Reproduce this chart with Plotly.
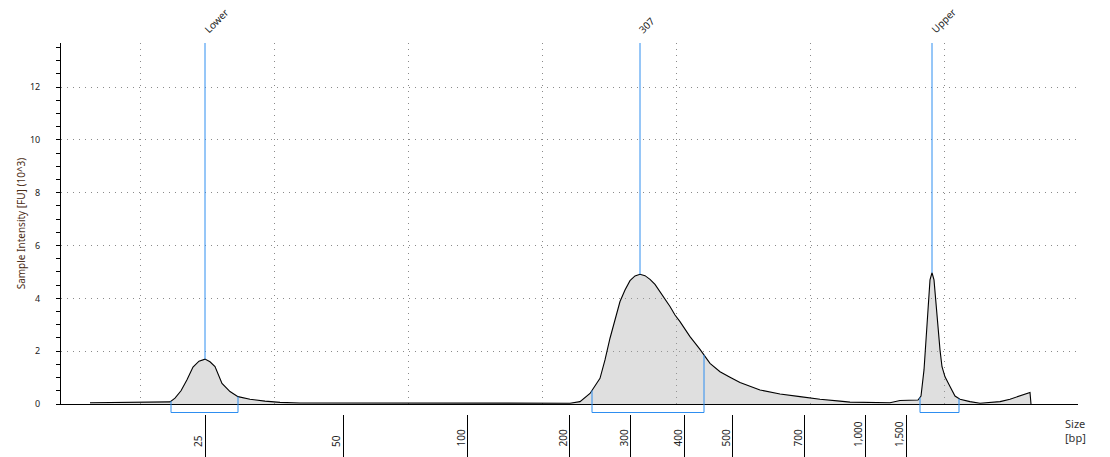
import numpy as np
import plotly.graph_objects as go

# ---------------- data ----------------
# migration time (arbitrary seconds) and sample intensity [FU] (10^3)
time_s = [2.9, 10.9, 11.4, 12.0, 12.6, 13.2, 13.8, 14.4, 14.9, 15.4, 16.1, 16.9, 17.7,
          18.9, 20.4, 21.9, 23.9, 33.9, 48.4, 48.9, 50.9, 51.9, 52.9, 53.9, 54.4, 54.9,
          55.4, 55.9, 56.4, 56.9, 57.4, 57.9, 58.4, 58.9, 59.4, 59.9, 60.4, 60.9, 61.4,
          61.9, 62.9, 63.9, 64.9, 65.9, 66.9, 67.9, 69.9, 71.9, 73.9, 75.9, 77.9, 78.9,
          82.9, 83.9, 85.7, 86.0, 86.3, 86.5, 86.7, 86.9, 87.1, 87.3, 87.5, 87.7, 87.9,
          88.1, 88.4, 88.9, 89.4, 89.9, 90.9, 91.9, 92.9, 93.9, 94.9, 95.9, 96.9, 97.0]
intensity = [0.05, 0.08, 0.22, 0.50, 0.92, 1.40, 1.62, 1.70, 1.60, 1.42, 0.78, 0.47, 0.28,
             0.18, 0.11, 0.06, 0.04, 0.04, 0.04, 0.02, 0.03, 0.09, 0.40, 0.97, 1.67, 2.49,
             3.18, 3.88, 4.32, 4.67, 4.85, 4.91, 4.86, 4.72, 4.53, 4.25, 4.00, 3.69, 3.37,
             3.12, 2.55, 2.07, 1.54, 1.22, 1.01, 0.81, 0.53, 0.38, 0.28, 0.18, 0.11, 0.07,
             0.05, 0.13, 0.15, 0.30, 1.29, 2.30, 3.56, 4.70, 4.97, 4.70, 3.81, 2.80, 2.05,
             1.41, 1.03, 0.66, 0.30, 0.18, 0.09, 0.03, 0.05, 0.09, 0.18, 0.30, 0.44, 0.0]

peak_names = ["Lower", "307", "Upper"]
peak_time = [14.4, 57.9, 87.1]
region_start = [11.0, 53.1, 85.9]
region_end = [17.7, 64.3, 89.8]

ladder_bp = ["25", "50", "100", "200", "300", "400", "500", "700", "1,000", "1,500"]
ladder_time = [14.4, 28.2, 40.6, 50.8, 56.9, 62.3, 67.1, 74.3, 80.4, 84.5]

# ---------------- layout geometry ----------------
W, H = 1110, 457
M_L, M_R, M_T, M_B = 61, 32, 43, 0
PLOT_BOTTOM_PX = 404
BRACKET_PX = 412.5
paper_h = H - M_T - M_B
d0 = (H - PLOT_BOTTOM_PX) / paper_h
bracket_y = (H - BRACKET_PX) / paper_h
YMAX = 13.67
XMAX = 101.7
BLUE = "#2e8ef0"

fig = go.Figure()

fig.add_trace(go.Scatter(
    x=time_s, y=intensity, mode="lines",
    line=dict(color="black", width=1.1),
    fill="tozeroy", fillcolor="rgba(165,165,165,0.36)",
    hoverinfo="skip", showlegend=False))

# peak marker lines
for t in peak_time:
    v = float(np.interp(t, time_s, intensity))
    fig.add_trace(go.Scatter(x=[t, t], y=[v, YMAX], mode="lines",
                             line=dict(color=BLUE, width=1),
                             hoverinfo="skip", showlegend=False))

# region bracket verticals above axis
for a, b in zip(region_start, region_end):
    va = float(np.interp(a, time_s, intensity))
    vb = float(np.interp(b, time_s, intensity))
    fig.add_trace(go.Scatter(x=[a, a, None, b, b], y=[va, 0, None, vb, 0], mode="lines",
                             line=dict(color=BLUE, width=1),
                             hoverinfo="skip", showlegend=False))
    fig.add_shape(type="path", xref="x", yref="paper",
                  path=f"M {a},{d0} L {a},{bracket_y} L {b},{bracket_y} L {b},{d0}",
                  line=dict(color=BLUE, width=1))

# dummy trace for the size-tick axis
fig.add_trace(go.Scatter(x=[50], y=[0], xaxis="x3", mode="markers",
                         marker=dict(opacity=0), hoverinfo="skip", showlegend=False))

annotations = []
for name, t in zip(peak_names, peak_time):
    annotations.append(dict(x=t, y=1, xref="x", yref="paper", text=name,
                            textangle=-45, showarrow=False, xanchor="left",
                            yanchor="bottom", xshift=-7, yshift=4,
                            font=dict(family="Noto Sans", size=10, color="#222")))
for lab, t in zip(ladder_bp, ladder_time):
    annotations.append(dict(x=t, y=0, xref="x", yref="paper", text=lab,
                            textangle=-90, showarrow=False, xanchor="right",
                            yanchor="bottom", xshift=2, yshift=8,
                            font=dict(family="Noto Sans", size=10, color="#222")))
annotations.append(dict(x=100.2, y=(H - 423) / paper_h, xref="x", yref="paper",
                        text="Size", showarrow=False, xanchor="left", yanchor="middle",
                        font=dict(family="Noto Sans", size=11, color="#333")))
annotations.append(dict(x=100.2, y=(H - 437) / paper_h, xref="x", yref="paper",
                        text="[bp]", showarrow=False, xanchor="left", yanchor="middle",
                        font=dict(family="Noto Sans", size=11, color="#333")))

GRID = "#8a8a8a"
fig.update_layout(
    width=W, height=H, autosize=False,
    margin=dict(l=M_L, r=M_R, t=M_T, b=M_B, pad=0, autoexpand=False),
    plot_bgcolor="white", paper_bgcolor="white",
    showlegend=False,
    annotations=annotations,
    xaxis=dict(range=[0, XMAX], domain=[0, 1], anchor="y", automargin=False,
               showline=True, linecolor="black", linewidth=1,
               ticks="", showticklabels=False, zeroline=False,
               showgrid=True, gridcolor=GRID, gridwidth=1, griddash="1px,5px",
               tick0=7.97, dtick=13.39, fixedrange=True),
    xaxis3=dict(range=[0, XMAX], overlaying="x", anchor="free", position=0,
                automargin=False,
                tickmode="array", tickvals=ladder_time, ticktext=ladder_bp,
                ticks="inside", ticklen=42, tickwidth=1.2, tickcolor="black",
                showticklabels=False, showline=False, showgrid=False, zeroline=False),
    yaxis=dict(range=[0, YMAX], domain=[d0, 1], anchor="x", automargin=False,
               showline=True, linecolor="black", linewidth=1,
               ticks="outside", ticklen=4, tickcolor="black", tickwidth=1,
               tick0=0, dtick=2, zeroline=False,
               showgrid=True, gridcolor=GRID, gridwidth=1, griddash="1px,5px",
               minor=dict(dtick=0.5, ticks="outside", ticklen=4, tickcolor="black",
                          showgrid=False),
               tickfont=dict(family="Noto Sans", size=9, color="#222"),
               ticklabelstandoff=14,
               title=dict(text="Sample Intensity [FU] (10^3)", standoff=2,
                          font=dict(family="Noto Sans", size=10, color="#4a2c14"))),
)

fig.write_html("out.html", config={"displayModeBar": False},
               post_script="document.body.style.margin='0px';")
